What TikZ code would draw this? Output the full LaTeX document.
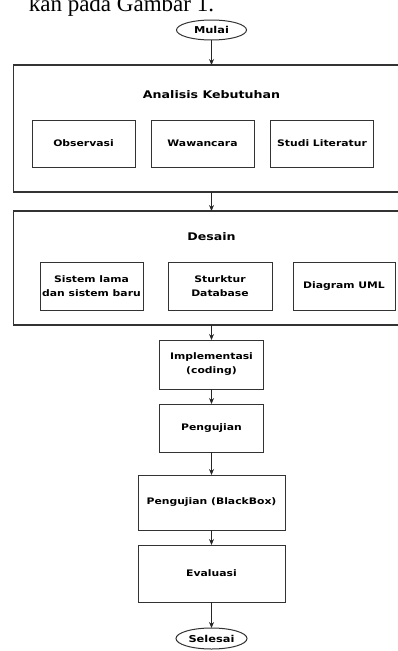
\documentclass[tikz,border=0pt]{standalone}
\usepackage{fontspec}
\setmainfont{Liberation Serif}
\newfontfamily\diagfont{DejaVu Sans}[FakeStretch=1.2]
\usetikzlibrary{arrows.meta,positioning,shapes.geometric}

\begin{document}
\begin{tikzpicture}[x=1pt,y=-1pt,>={Stealth[length=6pt,width=5pt]},
  node distance=15pt,every node/.style={outer sep=0pt},
  terminal/.style={ellipse,draw=black!80,line width=1pt,minimum width=70pt,minimum height=20pt,inner sep=0pt,font=\diagfont\bfseries\fontsize{9.5}{11}\selectfont},
  stage/.style={rectangle,draw=black!80,line width=1.5pt,minimum width=396pt},
  stage title/.style={inner sep=0pt,font=\diagfont\bfseries\fontsize{10.5}{12}\selectfont},
  sub node/.style={rectangle,draw=black!80,line width=1pt,minimum width=103pt,minimum height=48pt,inner sep=1pt,align=center,font=\diagfont\bfseries\fontsize{9}{14}\selectfont},
  main node/.style={sub node,minimum width=104pt},
  wide node/.style={sub node,minimum width=147pt}]

  \useasboundingbox (0,0) rectangle (398,651);
  \clip (0,0) rectangle (398,651);

  \node[anchor=base east,inner sep=0pt,font=\fontsize{23}{23}\selectfont] (caption) at (214,11) {kan pada Gambar 1.};

  \node[terminal] (mulai) at (211.5,30) {Mulai};

  % analisis kebutuhan
  \node[stage,minimum height=127pt] (analisis) [below=25pt of mulai] {};
  \node[stage title] (analisis title) at (211.5,95) {Analisis Kebutuhan};
  \node[sub node,minimum height=47pt] (observasi) at (83.5,143.5) {Observasi};
  \node[sub node,minimum height=47pt] (wawancara) at (202.5,143.5) {Wawancara};
  \node[sub node,minimum height=47pt] (studi) at (322,143.5) {Studi Literatur};

  % desain
  \node[stage,minimum height=114pt] (desain) [below=19pt of analisis] {};
  \node[stage title] (desain title) at (211.5,237) {Desain};
  \node[sub node] (sistem) at (91.5,286) {Sistem lama\\dan sistem baru};
  \node[sub node,minimum width=104pt] (struktur) at (220,286) {Sturktur\\Database};
  \node[sub node,minimum width=102pt] (uml) at (344,286) {Diagram UML};

  \node[main node,minimum height=49pt] (implementasi) [below=of desain] {Implementasi\\(coding)};
  \node[main node] (pengujian) [below=of implementasi] {Pengujian};
  \node[wide node,minimum height=55pt] (blackbox) [below=23pt of pengujian] {Pengujian (BlackBox)};
  \node[wide node,minimum height=57pt] (evaluasi) [below=of blackbox] {Evaluasi};
  \node[terminal,minimum width=71pt,minimum height=21pt] (selesai) [below=26pt of evaluasi] {Selesai};

  \path[->,draw=black!85,line width=1pt]
    (mulai) edge (analisis)
    (analisis) edge (desain)
    (desain) edge (implementasi)
    (implementasi) edge (pengujian)
    (pengujian) edge (blackbox)
    (blackbox) edge (evaluasi)
    (evaluasi) edge (selesai);

\end{tikzpicture}
\end{document}
